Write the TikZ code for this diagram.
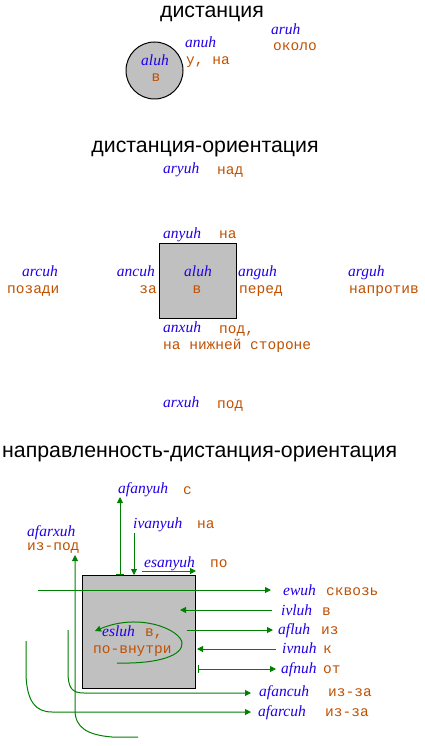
\documentclass[tikz,border=0pt]{standalone}
\usepackage{fontspec}
\setmainfont{Liberation Serif}
\newfontfamily\latf{Liberation Serif}
\newfontfamily\rusf{Liberation Mono}
\newfontfamily\ttlf{Liberation Sans}
\usetikzlibrary{arrows.meta}
\definecolor{labblue}{RGB}{32,0,230}
\definecolor{rusbrown}{RGB}{192,80,0}
\definecolor{conngreen}{RGB}{0,128,0}
\definecolor{boxgray}{RGB}{192,192,192}
\tikzset{
  lat/.style={font=\latf\itshape\fontsize{15.5}{15.5}\selectfont, text=labblue, anchor=base west, inner sep=0pt},
  rus/.style={font=\rusf\fontsize{14.5}{15}\selectfont, text=rusbrown, anchor=base west, inner sep=0pt},
  ttl/.style={font=\ttlf\fontsize{21.3}{21.3}\selectfont, text=black, anchor=base, inner sep=0pt},
  shapebox/.style={draw=black, fill=boxgray, line width=1pt},
  conn/.style={draw=conngreen, line width=1pt},
  tri/.style={-{Triangle[length=6pt,width=6pt]}},
  bartri/.style={{Bar[width=8pt]}-{Triangle[length=6pt,width=6pt]}},
}
\begin{document}
\begin{tikzpicture}[x=1pt,y=-1pt]
\useasboundingbox (0,0) rectangle (425,746);
% ---------- section 1 ----------
\node[ttl] (t1) at (212,18) {дистанция};
\node[shapebox, circle, minimum size=57pt, inner sep=0pt] (circ) at (154.5,70.5) {};
\node[lat] (c-aluh) at (141,66) {aluh};
\node[rus, anchor=base] (c-v) at (156,82) {в};
\node[lat] (c-anuh) at (185,48) {anuh};
\node[rus] (c-una) at (186,65) {у, на};
\node[lat] (c-aruh) at (271,35) {aruh};
\node[rus] (c-okolo) at (273,51) {около};
% ---------- section 2 ----------
\node[ttl] (t2) at (205,153) {дистанция-ориентация};
\node[lat] (aryuh) at (163,174) {aryuh};
\node[rus] (nad) at (217,175) {над};
\node[shapebox, minimum width=77pt, minimum height=75pt, inner sep=0pt] (sq) at (197.5,280.5) {};
\node[lat] (anyuh) at (163,238) {anyuh};
\node[rus] (na2) at (219,238) {на};
\node[lat] (s-aluh) at (184,276) {aluh};
\node[rus, anchor=base] (s-v) at (197,293) {в};
\node[lat, anchor=base east] (ancuh) at (155,276) {ancuh};
\node[rus, anchor=base east] (za) at (157,293) {за};
\node[lat] (anguh) at (238,276) {anguh};
\node[rus] (pered) at (239,293) {перед};
\node[lat] (arcuh) at (22,276) {arcuh};
\node[rus] (pozadi) at (7,293) {позади};
\node[lat] (arguh) at (348,276) {arguh};
\node[rus] (naprotiv) at (349,293) {напротив};
\node[lat] (anxuh) at (163,332) {anxuh};
\node[rus] (pod2) at (219,333) {под,};
\node[rus] (nanizh) at (163,349) {на нижней стороне};
\node[lat] (arxuh) at (163,407) {arxuh};
\node[rus] (pod3) at (217,408) {под};
% ---------- section 3 ----------
\node[ttl, anchor=base west] (t3) at (2,457) {направленность-дистанция-ориентация};
\node[shapebox, minimum width=113pt, minimum height=113pt, inner sep=0pt] (bx) at (138.5,631.5) {};
\node[lat] (afanyuh) at (118,493) {afanyuh};
\node[rus] (s) at (183,494) {с};
\node[lat] (ivanyuh) at (133,528) {ivanyuh};
\node[rus] (na3) at (197,528) {на};
\node[lat] (afarxuh) at (27,536) {afarxuh};
\node[rus] (izpod) at (27,550) {из-под};
\node[lat] (esanyuh) at (144,567) {esanyuh};
\node[rus] (po) at (210,567) {по};
\node[lat] (ewuh) at (283,595) {ewuh};
\node[rus] (skvoz) at (326,595) {сквозь};
\node[lat] (ivluh) at (281,615) {ivluh};
\node[rus] (v3) at (322,615) {в};
\node[lat] (afluh) at (278,634) {afluh};
\node[rus] (iz) at (321,634) {из};
\node[lat] (ivnuh) at (282,653) {ivnuh};
\node[rus] (k) at (323,653) {к};
\node[lat] (afnuh) at (281,673) {afnuh};
\node[rus] (ot) at (323,673) {от};
\node[lat] (afancuh) at (259,696) {afancuh};
\node[rus] (izza1) at (328,696) {из-за};
\node[lat] (afarcuh) at (258,716) {afarcuh};
\node[rus] (izza2) at (325,716) {из-за};
% connector end points
\coordinate (afany-a) at (120,575);
\coordinate (afany-b) at (120,497);
\coordinate (ivany-a) at (134,533);
\coordinate (ivany-b) at (134,575);
\coordinate (esany-a) at (142,571);
\coordinate (esany-b) at (196,571);
\coordinate (ew-a) at (38,590);
\coordinate (ew-b) at (271,590);
\coordinate (ivl-a) at (272,610);
\coordinate (ivl-b) at (180,610);
\coordinate (afl-a) at (187,630);
\coordinate (afl-b) at (273,630);
\coordinate (ivn-a) at (276,649);
\coordinate (ivn-b) at (197,649);
\coordinate (afn-a) at (198,669);
\coordinate (afn-b) at (276,669);
\coordinate (afanc-a) at (68,630);
\coordinate (afanc-b) at (251,693);
\coordinate (afarc-a) at (26,641);
\coordinate (afarc-b) at (251,712);
\coordinate (afarx-a) at (138,737);
\coordinate (afarx-b) at (75,555);
\coordinate (esl-a) at (117,663);
\coordinate (esl-m) at (182,643);
\coordinate (esl-b) at (95,631);
% connectors
\draw[conn, bartri] (afany-a) -- (afany-b);
\draw[conn, tri] (ivany-a) -- (ivany-b);
\draw[conn, tri] (esany-a) -- (esany-b);
\draw[conn, tri] (ew-a) -- (ew-b);
\draw[conn, tri] (ivl-a) -- (ivl-b);
\draw[conn, tri] (afl-a) -- (afl-b);
\draw[conn, tri] (ivn-a) -- (ivn-b);
\draw[conn, bartri] (afn-a) -- (afn-b);
\draw[conn, tri] (afanc-a) -- (68,672) .. controls (68,688) and (72,693) .. (84,693) -- (afanc-b);
\draw[conn, tri] (afarc-a) -- (26,675) .. controls (27,702) and (36,712) .. (52,712) -- (afarc-b);
\draw[conn, tri] (afarx-a) -- (112,737) .. controls (88,735) and (75,728) .. (75,710) -- (afarx-b);
\draw[conn, tri] (esl-a) .. controls (160,664) and (183,655) .. (esl-m) .. controls (181,630) and (140,612) .. (esl-b);
\node[lat] (esluh) at (102,636) {esluh};
\node[rus] (v4) at (145,636) {в,};
\node[rus] (ponutri) at (93,653) {по-внутри};
\end{tikzpicture}
\end{document}
